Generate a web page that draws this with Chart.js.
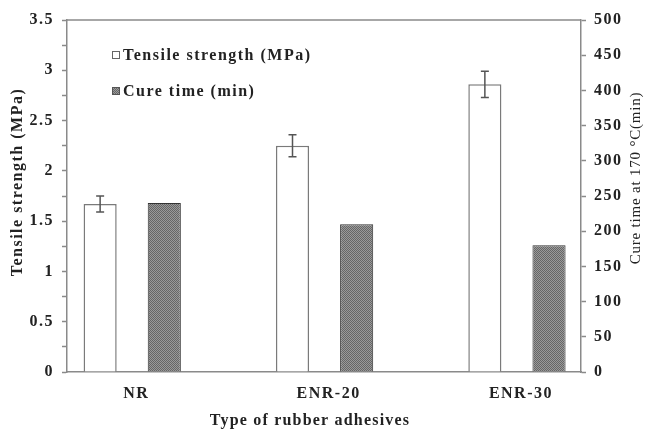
<!DOCTYPE html>
<html>
<head>
<meta charset="utf-8">
<script src="https://cdn.jsdelivr.net/npm/chart.js@4.4.1/dist/chart.umd.min.js"></script>
<style>
  html, body { margin: 0; padding: 0; background: #fff; }
  #wrap { width: 648px; height: 436px; position: relative; }
</style>
</head>
<body>
<div id="wrap"><canvas id="myChart"></canvas></div>
<script>
var categories = ["NR", "ENR-20", "ENR-30"];
var tensile = [1.67, 2.25, 2.86];
var tensileErr = [0.08, 0.11, 0.13];
var cureTime = [240, 210, 180];
var leftTicks = [0, 0.5, 1, 1.5, 2, 2.5, 3, 3.5];
var rightTicks = [0, 50, 100, 150, 200, 250, 300, 350, 400, 450, 500];

var serif = "'Liberation Serif', 'DejaVu Serif', serif";
var axisGray = "#8a8a8a";

// dithered gray fill like the scanned original
function makePattern() {
  var c = document.createElement("canvas");
  c.width = 2; c.height = 2;
  var g = c.getContext("2d");
  g.fillStyle = "#9a9a9a"; g.fillRect(0, 0, 2, 2);
  g.fillStyle = "#666666"; g.fillRect(0, 0, 1, 1); g.fillRect(1, 1, 1, 1);
  return g.createPattern(c, "repeat");
}
var darkFill = makePattern();

// the original lettering is stretched sideways, so space the letters a little
var spacing = {
  id: "spacing",
  beforeUpdate: function(chart) { chart.ctx.letterSpacing = "1.5px"; },
  beforeDraw: function(chart) { chart.ctx.letterSpacing = "1.5px"; }
};

var extras = {
  id: "extras",
  afterDatasetsDraw: function(chart) {
    var ctx = chart.ctx;
    var y = chart.scales.y;
    var meta = chart.getDatasetMeta(0);
    ctx.save();
    // error bars
    ctx.strokeStyle = "#555";
    ctx.lineWidth = 1.5;
    meta.data.forEach(function(bar, i) {
      var x = bar.x;
      var top = y.getPixelForValue(tensile[i] + tensileErr[i]);
      var bot = y.getPixelForValue(tensile[i] - tensileErr[i]);
      ctx.beginPath();
      ctx.moveTo(x, top); ctx.lineTo(x, bot);
      ctx.moveTo(x - 4, top); ctx.lineTo(x + 4, top);
      ctx.moveTo(x - 4, bot); ctx.lineTo(x + 4, bot);
      ctx.stroke();
    });
    ctx.restore();
  },
  afterDraw: function(chart) {
    var ctx = chart.ctx;
    var a = chart.chartArea;
    ctx.save();
    // top frame line
    ctx.strokeStyle = axisGray;
    ctx.lineWidth = 1.5;
    ctx.beginPath();
    ctx.moveTo(a.left, a.top); ctx.lineTo(a.right, a.top);
    ctx.stroke();

    // legend inside plot
    var items = [
      { text: chart.data.datasets[0].label, fill: "#fff", stroke: "#666" },
      { text: chart.data.datasets[1].label, fill: darkFill, stroke: "#555" }
    ];
    ctx.letterSpacing = "1.5px";
    ctx.font = "bold 16px " + serif;
    ctx.textBaseline = "middle";
    ctx.textAlign = "left";
    items.forEach(function(it, i) {
      var cy = 55 + i * 36;
      ctx.fillStyle = it.fill;
      ctx.fillRect(112, cy - 4, 8, 8);
      ctx.strokeStyle = it.stroke;
      ctx.lineWidth = 1;
      ctx.strokeRect(112.5, cy - 3.5, 7, 7);
      ctx.fillStyle = "#222";
      ctx.fillText(it.text, 123, cy + 1);
    });

    // axis titles
    ctx.fillStyle = "#222";
    ctx.textAlign = "center";
    ctx.letterSpacing = "1.2px";
    ctx.fillText("Type of rubber adhesives", 310, 421);
    ctx.letterSpacing = "1.5px";
    ctx.save();
    ctx.translate(18, 182);
    ctx.rotate(-Math.PI / 2);
    ctx.fillText("Tensile strength (MPa)", 0, 0);
    ctx.restore();
    ctx.save();
    ctx.letterSpacing = "0.8px";
    ctx.translate(636, 178);
    ctx.rotate(-Math.PI / 2);
    ctx.font = "15px " + serif;
    ctx.fillText("Cure time at 170 \u00B0C(min)", 0, 0);
    ctx.restore();
    ctx.restore();
  }
};

new Chart("myChart", {
  type: "bar",
  data: {
    datasets: [{
      label: "Tensile strength (MPa)",
      data: tensile.map(function(v, i) { return { x: i, y: v }; }),
      backgroundColor: "#fff",
      borderColor: "#7a7a7a",
      borderWidth: 1.5,
      yAxisID: "y"
    }, {
      label: "Cure time (min)",
      data: cureTime.map(function(v, i) { return { x: i, y: v }; }),
      backgroundColor: darkFill,
      borderColor: "#333",
      borderWidth: 1,
      yAxisID: "y1"
    }]
  },
  plugins: [spacing, extras],
  options: {
    responsive: true,
    maintainAspectRatio: false,
    animation: false,
    layout: { padding: { top: 20, right: 0, left: 0, bottom: 0 } },
    datasets: { bar: { categoryPercentage: 0.667, barPercentage: 0.516 } },
    plugins: { legend: { display: false }, tooltip: { enabled: false } },
    scales: {
      x: {
        type: "linear",
        offset: false,
        min: -0.339,
        max: 2.333,
        afterBuildTicks: function(s) {
          s.ticks = categories.map(function(c, i) { return { value: i }; });
        },
        ticks: {
          callback: function(v) { return categories[v]; },
          color: "#222",
          font: { family: serif, size: 16, weight: "bold" },
          padding: 12,
          labelOffset: 4,
          maxRotation: 0
        },
        grid: { display: false, drawTicks: false },
        border: { color: axisGray, width: 1.5 },
        afterFit: function(s) { s.height = 64; }
      },
      y: {
        position: "left",
        min: 0,
        max: 3.5,
        afterBuildTicks: function(s) {
          var t = [];
          for (var v = 0; v <= 3.5001; v += 0.25) t.push({ value: Math.round(v * 100) / 100 });
          s.ticks = t;
        },
        ticks: {
          callback: function(v) { return leftTicks.indexOf(v) >= 0 ? v : ""; },
          color: "#222",
          font: { family: serif, size: 16, weight: "bold" },
          padding: 8
        },
        grid: { drawOnChartArea: false, tickLength: 5, color: axisGray, tickWidth: 1.5 },
        border: { color: axisGray, width: 1.5 },
        afterFit: function(s) { s.width = 67; }
      },
      y1: {
        position: "right",
        min: 0,
        max: 500,
        afterBuildTicks: function(s) {
          s.ticks = rightTicks.map(function(v) { return { value: v }; });
        },
        ticks: {
          color: "#222",
          font: { family: serif, size: 16, weight: "bold" },
          padding: 8
        },
        grid: { drawOnChartArea: false, tickLength: 5, color: axisGray, tickWidth: 1.5 },
        border: { color: axisGray, width: 1.5 },
        afterFit: function(s) { s.width = 67; }
      }
    }
  }
});
</script>
</body>
</html>
